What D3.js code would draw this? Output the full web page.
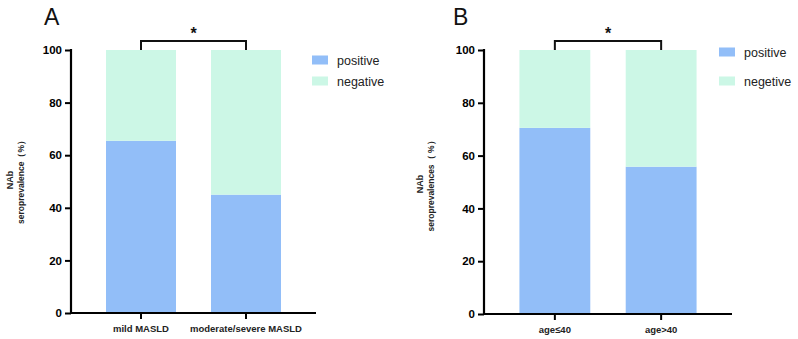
<!DOCTYPE html>
<html>
<head>
<meta charset="utf-8">
<script src="https://cdn.jsdelivr.net/npm/d3@7"></script>
<style>
  html, body { margin: 0; padding: 0; background: #fff; }
  svg { display: block; font-family: "Liberation Sans", Arial, sans-serif; }
</style>
</head>
<body>
<svg id="chart" width="798" height="339"></svg>
<script>
// ---- Data ----
const categoriesA = ["mild MASLD", "moderate/severe MASLD"];
const positiveA = [65.5, 45.0];
const negativeA = [34.5, 55.0];
const legendA = ["positive", "negative"];

const categoriesB = ["age≤40", "age>40"];
const positiveB = [70.5, 55.8];
const negativeB = [29.5, 44.2];
const legendB = ["positive", "negetive"];

const yTicks = [0, 20, 40, 60, 80, 100];

const colors = { positive: "#92bef8", negative: "#ccf7e6" };

const svg = d3.select("#chart");

function drawPanel(cfg) {
  const g = svg.append("g");
  const x = d3.scaleBand().domain(cfg.categories).range([cfg.x0, cfg.x1])
    .paddingInner(1/3).paddingOuter(1/3);
  const y = d3.scaleLinear().domain([0, 100]).range([cfg.y0, cfg.y1]);

  const rows = cfg.categories.map((c, i) => ({ cat: c, positive: cfg.pos[i], negative: cfg.neg[i] }));
  const stack = d3.stack().keys(["positive", "negative"])(rows);

  stack.forEach(layer => {
    g.append("g").selectAll("rect").data(layer).join("rect")
      .attr("x", d => x(d.data.cat))
      .attr("width", x.bandwidth())
      .attr("y", d => y(Math.min(d[1], 100)))
      .attr("height", d => y(d[0]) - y(Math.min(d[1], 100)))
      .attr("fill", colors[layer.key]);
  });

  // Y axis
  const yAxis = d3.axisLeft(y).tickValues(yTicks).tickSize(6).tickPadding(3).tickSizeOuter(0);
  const ya = g.append("g").attr("transform", `translate(${cfg.x0},0)`).call(yAxis);
  ya.select(".domain").attr("stroke", "#000").attr("stroke-width", 2.2)
    .attr("d", `M0,${cfg.y0 + 1}V${cfg.y1 - 1}`);
  ya.selectAll(".tick line").attr("stroke", "#000").attr("stroke-width", 2);
  ya.selectAll(".tick text").attr("fill", "#000").attr("font-size", "11.5px").attr("font-weight", "bold")
    .attr("font-family", "Liberation Sans, Arial, sans-serif");

  // X axis
  const xAxis = d3.axisBottom(x).tickSize(6).tickPadding(6).tickSizeOuter(0);
  const xa = g.append("g").attr("transform", `translate(0,${cfg.y0})`).call(xAxis);
  xa.select(".domain").attr("stroke", "#000").attr("stroke-width", 2.2)
    .attr("d", `M${cfg.x0 - 1},0H${cfg.x1}`);
  xa.selectAll(".tick line").attr("stroke", "#000").attr("stroke-width", 2);
  xa.selectAll(".tick text").attr("fill", "#222").attr("font-size", "9.5px").attr("font-weight", "bold")
    .attr("font-family", "Liberation Sans, Arial, sans-serif");

  // Y axis title
  const tg = g.append("g").attr("transform", `translate(${cfg.titleX},${cfg.titleY}) rotate(-90)`);
  tg.append("text").attr("text-anchor", "middle").attr("y", 0)
    .attr("font-size", "9px").attr("font-weight", "bold").attr("fill", "#222").text("NAb");
  tg.append("text").attr("text-anchor", "middle").attr("y", cfg.titleGap)
    .attr("font-size", "8.5px").attr("font-weight", "bold").attr("fill", "#222").text(cfg.yTitle);

  // Panel letter
  g.append("text").attr("x", cfg.letterX).attr("y", 25).attr("font-size", "23px")
    .attr("fill", "#111").text(cfg.letter);

  // Significance bracket
  const c1 = x(cfg.categories[0]) + x.bandwidth() / 2;
  const c2 = x(cfg.categories[1]) + x.bandwidth() / 2;
  const by = y(100) - 9;
  g.append("path").attr("d", `M${c1},${y(100)}V${by}H${c2}V${y(100)}`)
    .attr("fill", "none").attr("stroke", "#111").attr("stroke-width", 2);
  g.append("text").attr("x", (c1 + c2) / 2).attr("y", by - 2).attr("text-anchor", "middle")
    .attr("font-size", "16px").attr("font-weight", "bold").attr("fill", "#111").text("*");

  // Legend
  const lg = g.append("g");
  cfg.legend.forEach((name, i) => {
    const ly = cfg.legY + i * cfg.legGap;
    lg.append("rect").attr("x", cfg.legX).attr("y", ly - 4.5).attr("width", 16).attr("height", 9)
      .attr("fill", i === 0 ? colors.positive : colors.negative);
    lg.append("text").attr("x", cfg.legX + 25).attr("y", ly + 4.5).attr("font-size", "12.5px")
      .attr("fill", "#222").text(name);
  });
}

drawPanel({
  categories: categoriesA, pos: positiveA, neg: negativeA, legend: legendA,
  x0: 71, x1: 316, y0: 313, y1: 50,
  titleX: 13, titleY: 180, titleGap: 11, yTitle: "seroprevalence（%）",
  letter: "A", letterX: 44, legX: 312, legY: 60, legGap: 21
});

drawPanel({
  categories: categoriesB, pos: positiveB, neg: negativeB, legend: legendB,
  x0: 484, x1: 732, y0: 314, y1: 50,
  titleX: 423, titleY: 184, titleGap: 11, yTitle: "seroprevalences（ %）",
  letter: "B", letterX: 453, legX: 719, legY: 52, legGap: 29
});
</script>
</body>
</html>
